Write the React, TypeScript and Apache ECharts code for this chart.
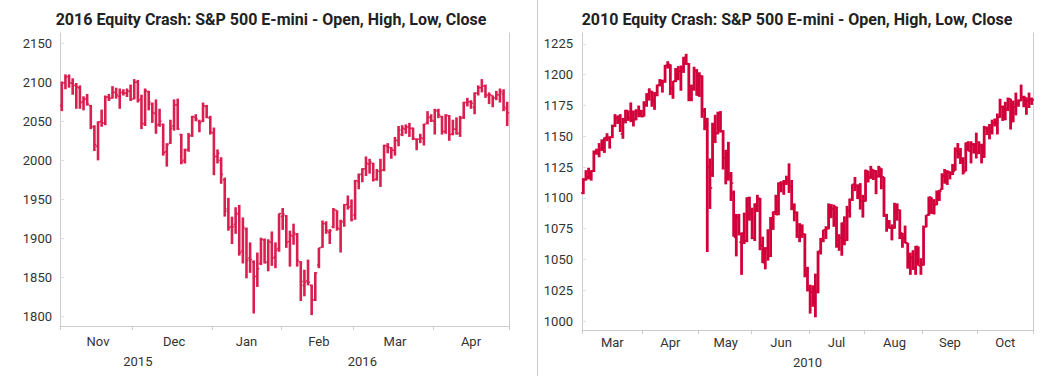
import React, { useEffect, useRef } from "react";
import * as echarts from "echarts";

const TITLE_2016 = "2016 Equity Crash: S&P 500 E-mini - Open, High, Low, Close";
const TITLE_2010 = "2010 Equity Crash: S&P 500 E-mini - Open, High, Low, Close";
const MONTH_NAMES = ["Jan", "Feb", "Mar", "Apr", "May", "Jun", "Jul", "Aug", "Sep", "Oct", "Nov", "Dec"];
const Y_TICKS_2016 = [1800, 1850, 1900, 1950, 2000, 2050, 2100, 2150];
const Y_TICKS_2010 = [1000, 1025, 1050, 1075, 1100, 1125, 1150, 1175, 1200, 1225];

// [date, open, high, low, close]
const OHLC_2016: [string, number, number, number, number][] = [
  ["2015-11-02", 2070, 2101, 2063, 2099],
  ["2015-11-03", 2099, 2110, 2091, 2107],
  ["2015-11-04", 2107, 2110, 2093, 2099],
  ["2015-11-05", 2099, 2105, 2084, 2096],
  ["2015-11-06", 2096, 2099, 2066, 2094],
  ["2015-11-09", 2093, 2096, 2066, 2074],
  ["2015-11-10", 2075, 2082, 2064, 2078],
  ["2015-11-11", 2079, 2085, 2070, 2072],
  ["2015-11-12", 2070, 2071, 2040, 2043],
  ["2015-11-13", 2043, 2045, 2012, 2020],
  ["2015-11-16", 2018, 2050, 2000, 2049],
  ["2015-11-17", 2050, 2065, 2043, 2048],
  ["2015-11-18", 2048, 2083, 2045, 2081],
  ["2015-11-19", 2081, 2085, 2076, 2079],
  ["2015-11-20", 2080, 2095, 2079, 2087],
  ["2015-11-23", 2087, 2093, 2079, 2084],
  ["2015-11-24", 2082, 2092, 2066, 2087],
  ["2015-11-25", 2087, 2091, 2083, 2086],
  ["2015-11-27", 2086, 2092, 2081, 2088],
  ["2015-11-30", 2089, 2097, 2076, 2078],
  ["2015-12-01", 2079, 2104, 2078, 2100],
  ["2015-12-02", 2100, 2103, 2074, 2077],
  ["2015-12-03", 2078, 2084, 2040, 2047],
  ["2015-12-04", 2047, 2092, 2044, 2089],
  ["2015-12-07", 2088, 2089, 2064, 2075],
  ["2015-12-08", 2072, 2074, 2048, 2061],
  ["2015-12-09", 2060, 2078, 2034, 2045],
  ["2015-12-10", 2046, 2066, 2043, 2050],
  ["2015-12-11", 2046, 2047, 2006, 2010],
  ["2015-12-14", 2011, 2022, 1992, 2020],
  ["2015-12-15", 2022, 2052, 2021, 2041],
  ["2015-12-16", 2044, 2078, 2038, 2071],
  ["2015-12-17", 2071, 2079, 2039, 2040],
  ["2015-12-18", 2033, 2034, 1995, 1998],
  ["2015-12-21", 2000, 2015, 1996, 2013],
  ["2015-12-22", 2014, 2035, 2011, 2031],
  ["2015-12-23", 2032, 2057, 2030, 2056],
  ["2015-12-24", 2055, 2059, 2050, 2053],
  ["2015-12-28", 2050, 2052, 2036, 2048],
  ["2015-12-29", 2050, 2074, 2049, 2070],
  ["2015-12-30", 2069, 2071, 2054, 2055],
  ["2015-12-31", 2054, 2057, 2033, 2036],
  ["2016-01-04", 2035, 2042, 1981, 2005],
  ["2016-01-05", 2005, 2014, 1996, 2009],
  ["2016-01-06", 2000, 2004, 1970, 1982],
  ["2016-01-07", 1975, 1978, 1928, 1935],
  ["2016-01-08", 1938, 1952, 1910, 1914],
  ["2016-01-11", 1915, 1928, 1893, 1915],
  ["2016-01-12", 1918, 1940, 1906, 1931],
  ["2016-01-13", 1932, 1943, 1878, 1882],
  ["2016-01-14", 1884, 1927, 1868, 1914],
  ["2016-01-15", 1912, 1914, 1849, 1872],
  ["2016-01-19", 1875, 1895, 1856, 1873],
  ["2016-01-20", 1870, 1872, 1804, 1851],
  ["2016-01-21", 1852, 1882, 1838, 1861],
  ["2016-01-22", 1868, 1901, 1866, 1899],
  ["2016-01-25", 1898, 1900, 1868, 1869],
  ["2016-01-26", 1870, 1899, 1858, 1896],
  ["2016-01-27", 1895, 1909, 1865, 1875],
  ["2016-01-28", 1876, 1895, 1862, 1885],
  ["2016-01-29", 1887, 1932, 1883, 1932],
  ["2016-02-01", 1928, 1939, 1911, 1931],
  ["2016-02-02", 1929, 1930, 1888, 1895],
  ["2016-02-03", 1896, 1910, 1864, 1904],
  ["2016-02-04", 1903, 1919, 1892, 1907],
  ["2016-02-05", 1905, 1907, 1864, 1872],
  ["2016-02-08", 1870, 1871, 1820, 1845],
  ["2016-02-09", 1840, 1860, 1826, 1844],
  ["2016-02-10", 1846, 1873, 1840, 1844],
  ["2016-02-11", 1840, 1841, 1802, 1821],
  ["2016-02-12", 1822, 1857, 1820, 1856],
  ["2016-02-16", 1866, 1888, 1862, 1888],
  ["2016-02-17", 1889, 1923, 1888, 1919],
  ["2016-02-18", 1919, 1922, 1906, 1910],
  ["2016-02-19", 1908, 1912, 1893, 1910],
  ["2016-02-22", 1915, 1939, 1913, 1937],
  ["2016-02-23", 1936, 1936, 1910, 1913],
  ["2016-02-24", 1912, 1924, 1882, 1922],
  ["2016-02-25", 1921, 1944, 1915, 1943],
  ["2016-02-26", 1944, 1955, 1937, 1940],
  ["2016-02-29", 1941, 1950, 1922, 1924],
  ["2016-03-01", 1930, 1975, 1924, 1974],
  ["2016-03-02", 1973, 1983, 1963, 1982],
  ["2016-03-03", 1982, 1990, 1972, 1989],
  ["2016-03-04", 1989, 2005, 1980, 1996],
  ["2016-03-07", 1995, 2002, 1983, 1998],
  ["2016-03-08", 1996, 1997, 1973, 1975],
  ["2016-03-09", 1976, 1989, 1974, 1986],
  ["2016-03-10", 1986, 2002, 1966, 1987],
  ["2016-03-11", 1988, 2020, 1986, 2019],
  ["2016-03-14", 2018, 2022, 2009, 2017],
  ["2016-03-15", 2016, 2017, 2002, 2013],
  ["2016-03-16", 2013, 2030, 2006, 2026],
  ["2016-03-17", 2025, 2044, 2018, 2039],
  ["2016-03-18", 2033, 2045, 2031, 2041],
  ["2016-03-21", 2040, 2046, 2034, 2043],
  ["2016-03-22", 2042, 2048, 2030, 2041],
  ["2016-03-23", 2041, 2042, 2026, 2028],
  ["2016-03-24", 2027, 2028, 2013, 2027],
  ["2016-03-28", 2027, 2034, 2022, 2029],
  ["2016-03-29", 2028, 2047, 2019, 2046],
  ["2016-03-30", 2048, 2063, 2046, 2055],
  ["2016-03-31", 2055, 2059, 2049, 2051],
  ["2016-04-01", 2050, 2066, 2033, 2064],
  ["2016-04-04", 2063, 2066, 2054, 2058],
  ["2016-04-05", 2056, 2057, 2033, 2037],
  ["2016-04-06", 2037, 2059, 2034, 2058],
  ["2016-04-07", 2057, 2058, 2025, 2033],
  ["2016-04-08", 2034, 2052, 2032, 2040],
  ["2016-04-11", 2040, 2055, 2033, 2034],
  ["2016-04-12", 2035, 2057, 2030, 2054],
  ["2016-04-13", 2055, 2075, 2053, 2074],
  ["2016-04-14", 2074, 2080, 2069, 2075],
  ["2016-04-15", 2075, 2077, 2066, 2073],
  ["2016-04-18", 2068, 2087, 2059, 2086],
  ["2016-04-19", 2086, 2096, 2083, 2093],
  ["2016-04-20", 2093, 2104, 2087, 2095],
  ["2016-04-21", 2095, 2097, 2080, 2084],
  ["2016-04-22", 2083, 2087, 2072, 2084],
  ["2016-04-25", 2083, 2083, 2068, 2080],
  ["2016-04-26", 2080, 2089, 2077, 2084],
  ["2016-04-27", 2084, 2092, 2074, 2088],
  ["2016-04-28", 2085, 2091, 2063, 2068],
  ["2016-04-29", 2066, 2075, 2044, 2061],
];

const OHLC_2010: [string, number, number, number, number][] = [
  ["2010-03-01", 1104, 1116, 1103, 1114.5],
  ["2010-03-02", 1115, 1122.5, 1114, 1117],
  ["2010-03-03", 1117, 1124.5, 1115, 1118],
  ["2010-03-04", 1118, 1122.5, 1114, 1122],
  ["2010-03-05", 1122, 1138.5, 1121, 1137.5],
  ["2010-03-08", 1137.5, 1140, 1135, 1137.5],
  ["2010-03-09", 1137, 1144.5, 1133, 1139.5],
  ["2010-03-10", 1139.5, 1147.5, 1138, 1144.5],
  ["2010-03-11", 1144, 1149, 1136.5, 1149],
  ["2010-03-12", 1149, 1152.5, 1146, 1149],
  ["2010-03-15", 1148.5, 1150, 1140, 1149.5],
  ["2010-03-16", 1149.5, 1159.5, 1148.5, 1158.5],
  ["2010-03-17", 1158.5, 1168, 1157.5, 1165],
  ["2010-03-18", 1165, 1167, 1160, 1164.5],
  ["2010-03-19", 1164.5, 1168, 1153.5, 1158.5],
  ["2010-03-22", 1152, 1165, 1148, 1163],
  ["2010-03-23", 1163, 1171.5, 1160.5, 1171],
  ["2010-03-24", 1170.5, 1171, 1162.5, 1164.5],
  ["2010-03-25", 1165, 1177.5, 1161.5, 1162.5],
  ["2010-03-26", 1163, 1171, 1158, 1163.5],
  ["2010-03-29", 1164, 1172, 1163, 1170],
  ["2010-03-30", 1170, 1175, 1165.5, 1170],
  ["2010-03-31", 1170, 1171.5, 1165.5, 1166],
  ["2010-04-01", 1166.5, 1178.5, 1166, 1175],
  ["2010-04-05", 1175.5, 1185, 1174, 1184.5],
  ["2010-04-06", 1184, 1189, 1179, 1186.5],
  ["2010-04-07", 1186, 1187, 1174, 1179.5],
  ["2010-04-08", 1179, 1186, 1171.5, 1183.5],
  ["2010-04-09", 1183.5, 1192, 1182.5, 1191.5],
  ["2010-04-12", 1191.5, 1196.5, 1190.5, 1193.5],
  ["2010-04-13", 1193.5, 1196, 1185.5, 1194.5],
  ["2010-04-14", 1194.5, 1208, 1193.5, 1207.5],
  ["2010-04-15", 1207.5, 1211, 1205, 1208.5],
  ["2010-04-16", 1208, 1208.5, 1183.5, 1189],
  ["2010-04-19", 1189, 1195, 1180.5, 1194.5],
  ["2010-04-20", 1195, 1205.5, 1194, 1204],
  ["2010-04-21", 1204, 1207, 1195.5, 1203],
  ["2010-04-22", 1203, 1207.5, 1187, 1205.5],
  ["2010-04-23", 1205.5, 1214.5, 1201.5, 1214],
  ["2010-04-26", 1214, 1217, 1208, 1209],
  ["2010-04-27", 1209, 1209.5, 1178.5, 1180.5],
  ["2010-04-28", 1180.5, 1192, 1178.5, 1188.5],
  ["2010-04-29", 1188.5, 1206.5, 1187, 1203.5],
  ["2010-04-30", 1203.5, 1204.5, 1183, 1183.5],
  ["2010-05-03", 1183.5, 1202, 1182, 1199],
  ["2010-05-04", 1199, 1199.5, 1165, 1170.5],
  ["2010-05-05", 1170.5, 1173, 1155, 1163],
  ["2010-05-06", 1163, 1165, 1056, 1125],
  ["2010-05-07", 1125, 1132, 1091, 1108],
  ["2010-05-10", 1119, 1161, 1117, 1156.5],
  ["2010-05-11", 1156, 1167.5, 1144.5, 1152.5],
  ["2010-05-12", 1152.5, 1170, 1151.5, 1168.5],
  ["2010-05-13", 1168.5, 1170.5, 1153, 1154.5],
  ["2010-05-14", 1154.5, 1155, 1123, 1132.5],
  ["2010-05-17", 1132.5, 1139, 1111, 1134],
  ["2010-05-18", 1134, 1145.5, 1114, 1117.5],
  ["2010-05-19", 1117.5, 1121, 1097.5, 1112],
  ["2010-05-20", 1104, 1106, 1068.5, 1068.5],
  ["2010-05-21", 1068, 1087, 1052.5, 1084.5],
  ["2010-05-24", 1084.5, 1087, 1069.5, 1070.5],
  ["2010-05-25", 1064, 1072, 1037.5, 1071],
  ["2010-05-26", 1071, 1088, 1062.5, 1065],
  ["2010-05-27", 1065, 1100.5, 1064, 1100],
  ["2010-05-28", 1100, 1101, 1081.5, 1086.5],
  ["2010-06-01", 1086.5, 1092, 1066.5, 1067.5],
  ["2010-06-02", 1067.5, 1095.5, 1065, 1095],
  ["2010-06-03", 1095, 1102.5, 1088.5, 1099.5],
  ["2010-06-04", 1099.5, 1100, 1057.5, 1061.5],
  ["2010-06-07", 1061.5, 1068.5, 1047, 1047.5],
  ["2010-06-08", 1047.5, 1060, 1042, 1059],
  ["2010-06-09", 1059, 1074.5, 1049, 1052.5],
  ["2010-06-10", 1052.5, 1084.5, 1052, 1083.5],
  ["2010-06-11", 1083.5, 1089, 1074, 1088.5],
  ["2010-06-14", 1088.5, 1102.5, 1086, 1086.5],
  ["2010-06-15", 1086.5, 1112.5, 1086, 1112],
  ["2010-06-16", 1112, 1113.5, 1104.5, 1111.5],
  ["2010-06-17", 1111.5, 1114.5, 1102.5, 1113],
  ["2010-06-18", 1113, 1118, 1110.5, 1114.5],
  ["2010-06-21", 1114.5, 1128, 1104, 1109],
  ["2010-06-22", 1109, 1114.5, 1090, 1091],
  ["2010-06-23", 1091, 1095.5, 1081, 1088],
  ["2010-06-24", 1088, 1089, 1067.5, 1069.5],
  ["2010-06-25", 1069.5, 1079.5, 1064, 1073],
  ["2010-06-28", 1073, 1078.5, 1067.5, 1070.5],
  ["2010-06-29", 1070.5, 1071, 1035.5, 1037],
  ["2010-06-30", 1037, 1044, 1024, 1026.5],
  ["2010-07-01", 1026.5, 1029.5, 1006, 1023.5],
  ["2010-07-02", 1023.5, 1029, 1011.5, 1018.5],
  ["2010-07-06", 1022, 1038.5, 1003, 1024],
  ["2010-07-07", 1024, 1057, 1022.5, 1056.5],
  ["2010-07-08", 1056.5, 1067.5, 1054, 1066.5],
  ["2010-07-09", 1066.5, 1074, 1064, 1074],
  ["2010-07-12", 1074, 1077, 1066.5, 1075],
  ["2010-07-13", 1075, 1095.5, 1074.5, 1091.5],
  ["2010-07-14", 1091.5, 1095, 1083.5, 1091],
  ["2010-07-15", 1091, 1094.5, 1076.5, 1092.5],
  ["2010-07-16", 1092.5, 1093, 1059.5, 1061],
  ["2010-07-19", 1061, 1070.5, 1057, 1067.5],
  ["2010-07-20", 1067.5, 1080, 1053, 1079.5],
  ["2010-07-21", 1079.5, 1085, 1061.5, 1065.5],
  ["2010-07-22", 1065.5, 1093.5, 1065, 1089.5],
  ["2010-07-23", 1089.5, 1099.5, 1084, 1098.5],
  ["2010-07-26", 1098.5, 1111, 1097.5, 1111],
  ["2010-07-27", 1111, 1117, 1105.5, 1110],
  ["2010-07-28", 1110, 1111, 1099, 1102],
  ["2010-07-29", 1102, 1112, 1090.5, 1097.5],
  ["2010-07-30", 1097.5, 1102.5, 1084, 1097.5],
  ["2010-08-02", 1097.5, 1123, 1097, 1122],
  ["2010-08-03", 1122, 1122, 1112.5, 1116.5],
  ["2010-08-04", 1116.5, 1126, 1115.5, 1123],
  ["2010-08-05", 1123, 1123, 1114.5, 1122],
  ["2010-08-06", 1122, 1122.5, 1103, 1117.5],
  ["2010-08-09", 1117.5, 1126, 1116.5, 1124],
  ["2010-08-10", 1124, 1124, 1107, 1117],
  ["2010-08-11", 1117, 1117, 1084.5, 1085.5],
  ["2010-08-12", 1085.5, 1087, 1072.5, 1079.5],
  ["2010-08-13", 1079.5, 1082, 1075, 1075.5],
  ["2010-08-16", 1075.5, 1078.5, 1065.5, 1075.5],
  ["2010-08-17", 1075.5, 1096, 1075, 1088.5],
  ["2010-08-18", 1088.5, 1095.5, 1081.5, 1090],
  ["2010-08-19", 1090, 1090.5, 1066.5, 1071.5],
  ["2010-08-20", 1071.5, 1071.5, 1059.5, 1067.5],
  ["2010-08-23", 1067.5, 1077.5, 1063, 1063.5],
  ["2010-08-24", 1063.5, 1063.5, 1042.5, 1048],
  ["2010-08-25", 1048, 1055.5, 1037.5, 1051.5],
  ["2010-08-26", 1051.5, 1057.5, 1041.5, 1043],
  ["2010-08-27", 1043, 1061, 1037.5, 1060.5],
  ["2010-08-30", 1060.5, 1060.5, 1045, 1045],
  ["2010-08-31", 1045, 1051, 1037.5, 1045.5],
  ["2010-09-01", 1045.5, 1077.5, 1045, 1076.5],
  ["2010-09-02", 1076.5, 1086, 1076, 1086],
  ["2010-09-03", 1086, 1101, 1085.5, 1100.5],
  ["2010-09-07", 1100.5, 1100.5, 1087, 1087.5],
  ["2010-09-08", 1087.5, 1099, 1086.5, 1094.5],
  ["2010-09-09", 1094.5, 1106, 1094, 1100],
  ["2010-09-10", 1100, 1106.5, 1097.5, 1105.5],
  ["2010-09-13", 1107, 1120, 1106.5, 1118],
  ["2010-09-14", 1118, 1123.5, 1111.5, 1117],
  ["2010-09-15", 1117, 1122.5, 1110.5, 1121],
  ["2010-09-16", 1121, 1121.5, 1115, 1120.5],
  ["2010-09-17", 1120.5, 1127.5, 1118.5, 1121.5],
  ["2010-09-20", 1122.5, 1141, 1122, 1138.5],
  ["2010-09-21", 1138.5, 1144.5, 1132, 1135.5],
  ["2010-09-22", 1135.5, 1140.5, 1127.5, 1130.5],
  ["2010-09-23", 1130.5, 1133, 1119, 1121],
  ["2010-09-24", 1122, 1145, 1121.5, 1144.5],
  ["2010-09-27", 1144.5, 1146, 1138, 1138],
  ["2010-09-28", 1138, 1146, 1128, 1143.5],
  ["2010-09-29", 1143.5, 1144.5, 1136, 1140.5],
  ["2010-09-30", 1140.5, 1153, 1132, 1137],
  ["2010-10-01", 1137, 1146, 1135.5, 1142],
  ["2010-10-04", 1142, 1144, 1128, 1133],
  ["2010-10-05", 1133, 1158.5, 1132.5, 1156.5],
  ["2010-10-06", 1156.5, 1158, 1151, 1156],
  ["2010-10-07", 1156, 1160, 1147.5, 1154],
  ["2010-10-08", 1154, 1163.5, 1151.5, 1161],
  ["2010-10-11", 1161, 1164.5, 1158, 1161.5],
  ["2010-10-12", 1161.5, 1168.5, 1151.5, 1165.5],
  ["2010-10-13", 1165.5, 1180.5, 1165, 1174],
  ["2010-10-14", 1174, 1175, 1162.5, 1170],
  ["2010-10-15", 1170, 1178, 1163, 1172],
  ["2010-10-18", 1172, 1181.5, 1170.5, 1180.5],
  ["2010-10-19", 1180.5, 1180.5, 1155.5, 1162],
  ["2010-10-20", 1162, 1179, 1161.5, 1174],
  ["2010-10-21", 1174, 1185.5, 1167, 1176.5],
  ["2010-10-22", 1176.5, 1180, 1174, 1179],
  ["2010-10-25", 1179, 1192, 1178.5, 1181.5],
  ["2010-10-26", 1181.5, 1183, 1173.5, 1181.5],
  ["2010-10-27", 1181.5, 1181.5, 1167.5, 1178.5],
  ["2010-10-28", 1178.5, 1185.5, 1173, 1180],
  ["2010-10-29", 1180, 1181.5, 1175.5, 1179.5],
];

const FONT = "Roboto";
const AXIS_GRAY = "#cccccc";
const LABEL_COLOR = "#333333";

function groupMids(dates: string[], keyLen: number): Set<number> {
  const mids = new Set<number>();
  let start = 0;
  for (let i = 1; i <= dates.length; i++) {
    if (i === dates.length || dates[i].slice(0, keyLen) !== dates[start].slice(0, keyLen)) {
      mids.add(Math.floor((start + i) / 2));
      start = i;
    }
  }
  return mids;
}

function monthStarts(dates: string[]): Set<number> {
  const s = new Set<number>();
  dates.forEach((d, i) => {
    if (i === 0 || d.slice(0, 7) !== dates[i - 1].slice(0, 7)) s.add(i);
  });
  return s;
}

function makeRender(color: string, bodyW: number, tickW: number) {
  return (_params: any, api: any) => {
    const i = api.value(0);
    const o = api.coord([i, api.value(1)]);
    const h = api.coord([i, api.value(2)]);
    const l = api.coord([i, api.value(3)]);
    const c = api.coord([i, api.value(4)]);
    const x = h[0];
    return {
      type: "group",
      children: [
        { type: "rect", shape: { x: x - bodyW / 2, y: h[1], width: bodyW, height: Math.max(1, l[1] - h[1]) }, style: { fill: color } },
        { type: "rect", shape: { x: x - bodyW / 2 - tickW, y: o[1] - 0.75, width: tickW + bodyW / 2, height: 1.5 }, style: { fill: color } },
        { type: "rect", shape: { x: x, y: c[1] - 0.75, width: tickW + bodyW / 2, height: 1.5 }, style: { fill: color } },
      ],
    };
  };
}

function panelAxes(dates: string[], gridIndex: number, monthMargin: number) {
  const mMids = groupMids(dates, 7);
  const yMids = groupMids(dates, 4);
  const starts = monthStarts(dates);
  return [
    {
      type: "category",
      gridIndex,
      data: dates,
      boundaryGap: true,
      axisLine: { show: true, lineStyle: { color: AXIS_GRAY, width: 1 } },
      axisTick: { show: true, length: 4, lineStyle: { color: AXIS_GRAY }, interval: (idx: number) => starts.has(idx) },
      axisLabel: {
        interval: (idx: number) => mMids.has(idx),
        formatter: (v: string) => MONTH_NAMES[parseInt(v.slice(5, 7), 10) - 1],
        color: LABEL_COLOR,
        fontSize: 13,
        fontFamily: FONT,
        margin: monthMargin,
      },
      splitLine: { show: false },
    },
    {
      type: "category",
      gridIndex,
      data: dates,
      position: "bottom",
      offset: 20,
      boundaryGap: true,
      axisLine: { show: false },
      axisTick: { show: false },
      axisLabel: {
        interval: (idx: number) => yMids.has(idx),
        formatter: (v: string) => v.slice(0, 4),
        color: LABEL_COLOR,
        fontSize: 13,
        fontFamily: FONT,
        margin: monthMargin,
      },
      splitLine: { show: false },
    },
  ];
}

function valueAxes(gridIndex: number, min: number, max: number, ticks: number[], margin: number) {
  return [
    {
      type: "value",
      gridIndex,
      min,
      max,
      position: "left",
      axisLine: { show: true, lineStyle: { color: AXIS_GRAY } },
      axisTick: { show: true, inside: true, length: 4, lineStyle: { color: "#dddddd" }, customValues: ticks },
      axisLabel: {
        customValues: ticks,
        formatter: (v: number) => String(v),
        color: LABEL_COLOR,
        fontSize: 13,
        fontFamily: FONT,
        margin,
      },
      splitLine: { show: false },
    },
    {
      type: "value",
      gridIndex,
      min,
      max,
      position: "right",
      axisLine: { show: true, lineStyle: { color: AXIS_GRAY } },
      axisTick: { show: false },
      axisLabel: { show: false },
      splitLine: { show: false },
    },
  ];
}

export default function App() {
  const ref = useRef<HTMLDivElement>(null);
  useEffect(() => {
    if (!ref.current) return;
    const chart = echarts.init(ref.current, undefined, { renderer: "svg" });
    const dates16 = OHLC_2016.map((r) => r[0]);
    const dates10 = OHLC_2010.map((r) => r[0]);
    chart.setOption({
      animation: false,
      textStyle: { fontFamily: FONT },
      grid: [
        { left: 60, right: 544, top: 33, bottom: 50 },
        { left: 582, right: 20, top: 33, bottom: 46 },
      ],
      xAxis: [...panelAxes(dates16, 0, 9), ...panelAxes(dates10, 1, 6)],
      yAxis: [
        ...valueAxes(0, 1788, 2163, Y_TICKS_2016, 8),
        ...valueAxes(1, 992.7, 1233.9, Y_TICKS_2010, 9),
      ],
      graphic: [
        { type: "line", shape: { x1: 537.5, y1: 0, x2: 537.5, y2: 376 }, style: { stroke: "#cccccc", lineWidth: 1 } },
        {
          type: "text",
          x: 271,
          y: 19,
          style: { text: TITLE_2016, textAlign: "center", textVerticalAlign: "middle", font: "bold 16px Roboto", fill: "#222222" },
        },
        {
          type: "text",
          x: 797,
          y: 19,
          style: { text: TITLE_2010, textAlign: "center", textVerticalAlign: "middle", font: "bold 16px Roboto", fill: "#222222" },
        },
      ],
      series: [
        {
          type: "custom",
          name: "2016",
          xAxisIndex: 0,
          yAxisIndex: 0,
          data: OHLC_2016,
          encode: { x: 0, y: [1, 2, 3, 4] },
          renderItem: makeRender("#d81f4f", 2.6, 0.6),
        },
        {
          type: "custom",
          name: "2010",
          xAxisIndex: 2,
          yAxisIndex: 2,
          data: OHLC_2010,
          encode: { x: 0, y: [1, 2, 3, 4] },
          renderItem: makeRender("#d1003a", 2.8, 0.9),
        },
      ],
    });
    return () => chart.dispose();
  }, []);
  return (
    <div
      ref={ref}
      style={{ position: "fixed", left: 0, top: 0, width: 1053, height: 376, background: "#ffffff" }}
    />
  );
}
